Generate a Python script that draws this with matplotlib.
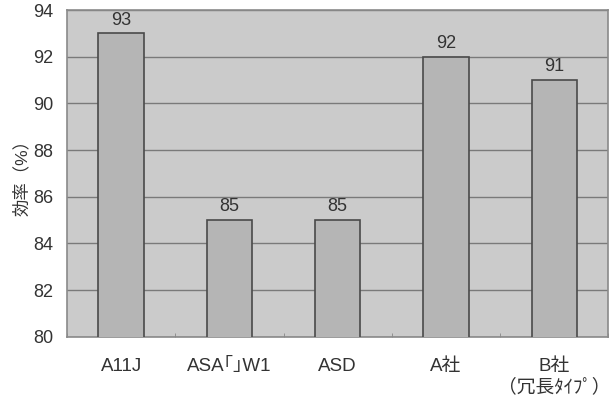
import numpy as np
import matplotlib
matplotlib.use("Agg")
import matplotlib.pyplot as plt

plt.rcParams['font.family'] = ['Liberation Sans', 'Noto Sans CJK JP', 'DejaVu Sans']

categories = ['A11J', 'ASA｢｣W1', 'ASD', 'A社', 'B社\n（冗長ﾀｲﾌﾟ）']
efficiency = [93, 85, 85, 92, 91]
yticks = [80, 82, 84, 86, 88, 90, 92, 94]

fig = plt.figure(figsize=(6.09, 4.01), dpi=100)
ax = fig.add_axes([0.110, 0.160, 0.889, 0.815])
ax.set_facecolor('#cbcbcb')

x = np.arange(len(categories))
bars = ax.bar(x, efficiency, width=0.42, color='#b5b5b5',
              edgecolor='#4a4a4a', linewidth=1.2, zorder=3)
for b, v in zip(bars, efficiency):
    ax.text(b.get_x() + b.get_width() / 2, v + 0.2, str(v),
            ha='center', va='bottom', fontsize=13, color='#333333')

ax.set_xlim(-0.5, len(categories) - 0.5)
ax.set_ylim(80, 94)
ax.set_yticks(yticks)
ax.yaxis.grid(True, color='#7a7a7a', linewidth=1.0, zorder=1)
ax.set_xticks(x)
ax.set_xticklabels(categories, fontsize=13.5, color='#333333', linespacing=1.25)
ax.set_xticks(np.arange(len(categories) + 1) - 0.5, minor=True)
ax.tick_params(axis='x', which='major', length=0, pad=15)
ax.tick_params(axis='x', which='minor', length=3, direction='in', color='#888888')
ax.tick_params(axis='y', length=0, labelsize=13, labelcolor='#333333', pad=10)
for s in ax.spines.values():
    s.set_color('#8a8a8a')
    s.set_linewidth(1.2)

ax.set_ylabel('効率（%）', fontsize=12.5, color='#333333', labelpad=2)

fig.savefig('out.png', dpi=100)
